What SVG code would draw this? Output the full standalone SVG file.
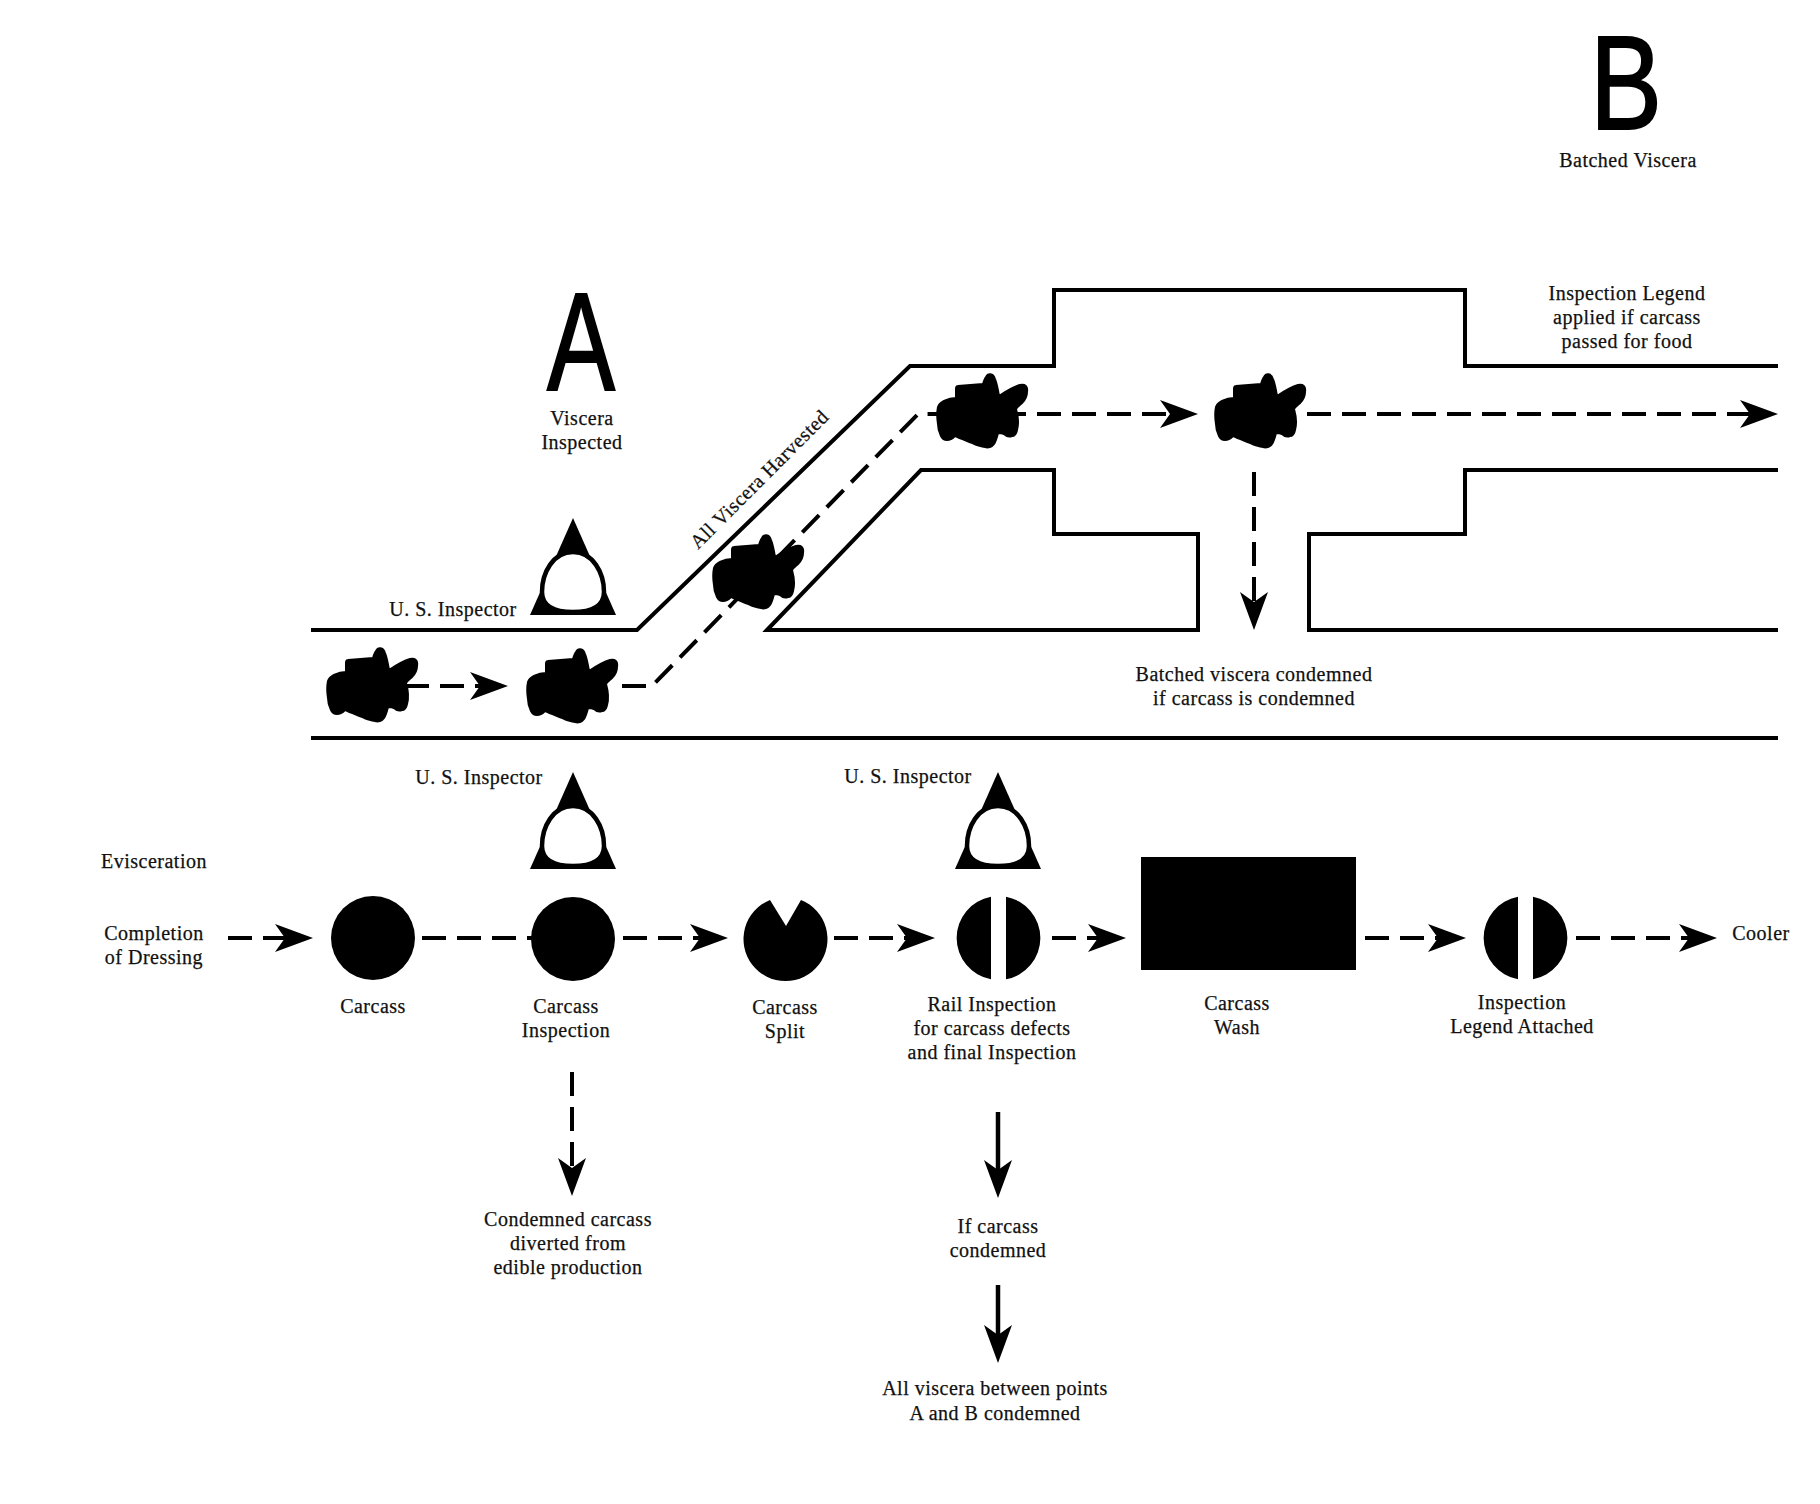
<svg xmlns="http://www.w3.org/2000/svg" width="1820" height="1504" viewBox="0 0 1820 1504">
<style>
text{font-family:"Liberation Serif","Times New Roman",serif;font-size:20px;fill:#111;text-anchor:middle;letter-spacing:.5px;stroke:#111;stroke-width:.25px}
text.big{font-family:"Liberation Sans",Arial,sans-serif;fill:#000;letter-spacing:0;stroke:#000;stroke-width:2px}
.wall{fill:none;stroke:#000;stroke-width:4;stroke-linejoin:miter}
.dash{fill:none;stroke:#000;stroke-width:4;stroke-dasharray:24 11}
.solid{fill:none;stroke:#000;stroke-width:4.5}
.fill{fill:#000}
</style>
<defs>
<marker id="head" markerUnits="userSpaceOnUse" markerWidth="44" markerHeight="34" viewBox="-32 -17 44 34" refX="0" refY="0" orient="auto"><path d="M10,0 L-28,-14 L-18,0 L-28,14Z"/></marker>
<path id="blob" stroke="#000" stroke-width="2" stroke-linejoin="round" d="M-24,-26 L1,-28 C2,-31 3,-34 4,-35 C6,-39 11,-39 13,-33 C15,-28 16,-22 17,-16 C23,-20 31,-25 38,-27 C43,-28 46,-26 45,-20 C45,-15 43,-12 40,-9 C38,-7 36,-6 34,-3 C36,4 37,11 35,18 C34,23 32,24 30,24 C27,25 24,24 22,22 C20,21 18,21 16,21 C15,25 14,29 12,32 C10,35 6,36 3,35 C0,35 -2,34 -5,33 C-12,30 -20,27 -27,24 C-29,26 -32,28 -35,28 C-38,28 -40,26 -41,24 C-43,20 -44,16 -44,12 C-45,6 -45,0 -44,-5 C-43,-8 -40,-10 -38,-11 C-34,-13 -31,-14 -26,-14 C-26,-17 -26,-20 -26,-23 C-26,-25 -25,-26 -24,-26Z"/>
<g id="inspector-shape">
<path d="M0,518 L43,615 L-43,615Z"/>
<path d="M0,552 C20,552 31,573 31,592 C31,605 20,612 0,612 C-20,612 -31,605 -31,592 C-31,573 -20,552 0,552Z" fill="#fff" stroke="#000" stroke-width="4.5"/>
</g>
</defs>
<rect width="1820" height="1504" fill="#fff"/>

<g id="walls">
<path class="wall" d="M311,630 L637,630 L910,366 L1054,366 L1054,290 L1465,290 L1465,366 L1778,366"/>
<path class="wall" d="M1778,470 L1465,470 L1465,534 L1309,534 L1309,630 L1778,630"/>
<path class="wall" d="M767,630 L921,470 L1054,470 L1054,534 L1198,534 L1198,630 Z"/>
<path class="wall" d="M311,738 L1778,738"/>
</g>

<g id="connectors">
<path class="dash" marker-end="url(#head)" d="M405,686 L498,686"/>
<path class="dash" d="M622,686 L652,686 L918,414 L960,414"/>
<path class="dash" marker-end="url(#head)" d="M1002,414 L1188,414"/>
<path class="dash" marker-end="url(#head)" d="M1307,414 L1768,414"/>
<path class="dash" marker-end="url(#head)" d="M1254,472 L1254,620"/>
<path class="dash" marker-end="url(#head)" d="M228,938 L303,938"/>
<path class="dash" d="M422,938 L535,938"/>
<path class="dash" marker-end="url(#head)" d="M623,938 L718,938"/>
<path class="dash" marker-end="url(#head)" d="M834,938 L925,938"/>
<path class="dash" marker-end="url(#head)" d="M1052,938 L1116,938"/>
<path class="dash" marker-end="url(#head)" d="M1365,938 L1456,938"/>
<path class="dash" marker-end="url(#head)" d="M1576,938 L1707,938"/>
<path class="dash" marker-end="url(#head)" d="M572,1072 L572,1186"/>
<path class="solid" marker-end="url(#head)" d="M998,1112 L998,1188"/>
<path class="solid" marker-end="url(#head)" d="M998,1285 L998,1353"/>
</g>

<g id="viscera-1"><use href="#blob" x="372" y="686"/></g>
<g id="viscera-2"><use href="#blob" x="572" y="687"/></g>
<g id="viscera-3"><use href="#blob" x="758" y="573"/></g>
<g id="viscera-4"><use href="#blob" x="982" y="412"/></g>
<g id="viscera-5"><use href="#blob" x="1260" y="412"/></g>

<g id="inspector-a"><use href="#inspector-shape" x="573" y="0"/><text x="453" y="616">U. S. Inspector</text></g>
<g id="inspector-carcass"><use href="#inspector-shape" x="573" y="254"/><text x="479" y="784">U. S. Inspector</text></g>
<g id="inspector-rail"><use href="#inspector-shape" x="998" y="254"/><text x="908" y="783">U. S. Inspector</text></g>

<g id="point-a"><text class="big" x="581" y="390" style="font-size:140px" textLength="68" lengthAdjust="spacingAndGlyphs">A</text><text x="582" y="425">Viscera</text><text x="582" y="449">Inspected</text></g>
<g id="point-b"><text class="big" x="1626" y="129" style="font-size:133px" textLength="72" lengthAdjust="spacingAndGlyphs">B</text><text x="1628" y="167">Batched Viscera</text></g>
<g id="legend-note"><text x="1627" y="300">Inspection Legend</text><text x="1627" y="324">applied if carcass</text><text x="1627" y="348">passed for food</text></g>
<g id="harvested-label"><text transform="translate(764,484) rotate(-45)">All Viscera Harvested</text></g>
<g id="batched-condemned"><text x="1254" y="681">Batched viscera condemned</text><text x="1254" y="705">if carcass is condemned</text></g>

<g id="evisceration"><text x="154" y="868">Evisceration</text></g>
<g id="completion"><text x="154" y="940">Completion</text><text x="154" y="964">of Dressing</text></g>
<g id="carcass"><circle class="fill" cx="373" cy="938" r="42"/><text x="373" y="1013">Carcass</text></g>
<g id="carcass-inspection"><circle class="fill" cx="573" cy="939" r="42"/><text x="566" y="1013">Carcass</text><text x="566" y="1037">Inspection</text></g>
<g id="carcass-split"><path class="fill" d="M770,900 L786,926 L801,900 A42,42 0 1 1 770,900Z"/><text x="785" y="1014">Carcass</text><text x="785" y="1038">Split</text></g>
<g id="rail-inspection"><path class="fill" d="M991,896.7 A42,42 0 0 0 991,979.3Z M1006,896.7 A42,42 0 0 1 1006,979.3Z"/><text x="992" y="1011">Rail Inspection</text><text x="992" y="1035">for carcass defects</text><text x="992" y="1059">and final Inspection</text></g>
<g id="carcass-wash"><rect class="fill" x="1141" y="857" width="215" height="113"/><text x="1237" y="1010">Carcass</text><text x="1237" y="1034">Wash</text></g>
<g id="legend-attached"><path class="fill" d="M1518,896.7 A42,42 0 0 0 1518,979.3Z M1533,896.7 A42,42 0 0 1 1533,979.3Z"/><text x="1522" y="1009">Inspection</text><text x="1522" y="1033">Legend Attached</text></g>
<g id="cooler"><text x="1761" y="940">Cooler</text></g>
<g id="condemned-carcass"><text x="568" y="1226">Condemned carcass</text><text x="568" y="1250">diverted from</text><text x="568" y="1274">edible production</text></g>
<g id="if-condemned"><text x="998" y="1233">If carcass</text><text x="998" y="1257">condemned</text></g>
<g id="all-condemned"><text x="995" y="1395">All viscera between points</text><text x="995" y="1420">A and B condemned</text></g>
</svg>
